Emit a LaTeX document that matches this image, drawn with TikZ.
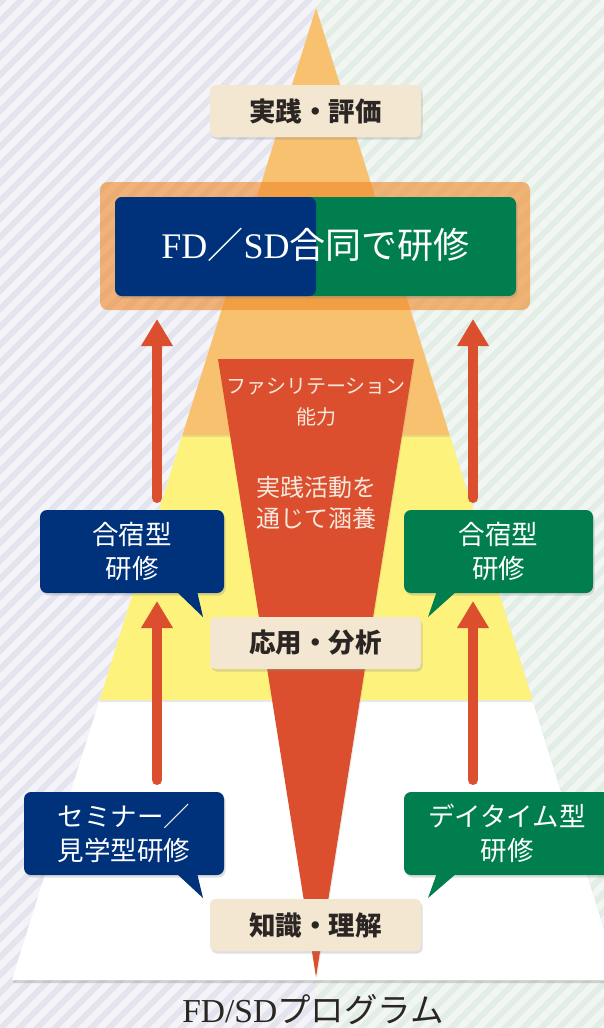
\documentclass[tikz,border=0pt]{standalone}
\usepackage{fontspec}
\setmainfont{Liberation Serif}
\newfontfamily\jp{Noto Sans CJK JP}
\usetikzlibrary{arrows.meta,shadows}
\definecolor{lav}{HTML}{E4E4EF}
\definecolor{lavs}{HTML}{F3F3F8}
\definecolor{mint}{HTML}{E2EDE6}
\definecolor{mints}{HTML}{F1F6F2}
\definecolor{ptop}{HTML}{F7C16F}
\definecolor{pmid}{HTML}{FDF27C}
\definecolor{red1}{HTML}{DB4F2E}
\definecolor{navy}{HTML}{00317B}
\definecolor{grn}{HTML}{007E4E}
\definecolor{cream}{HTML}{F3E7D2}
\definecolor{frame}{HTML}{F08A2A}
\definecolor{ink}{HTML}{2B2623}
\definecolor{pale}{HTML}{F7E8DE}
\tikzset{
  shd/.style={drop shadow={opacity=0.25,shadow xshift=1.5pt,shadow yshift=-2.5pt}},
  labelbox/.style={fill=cream, rounded corners=5pt, minimum width=211pt, minimum height=52pt, inner sep=0pt, shd, text=ink, font=\jp\bfseries\fontsize{26.5}{28}\selectfont},
  bubble/.style={rounded corners=7pt, inner sep=0pt, text=white, align=center, shd, font=\jp\fontsize{26.5}{34}\selectfont},
  redtext/.style={text=pale, align=center, inner sep=0pt},
  arr/.style={draw=red1, line width=10pt, line cap=round, -{Triangle[width=30pt,length=27pt]}},
  stripe/.style={line width=6.5pt},
}
\begin{document}
\begin{tikzpicture}[x=1pt,y=-1pt]
\useasboundingbox (0,0) rectangle (604,1028);
% background
\begin{scope}
  \clip (0,0) rectangle (316,1028);
  \fill[lav] (0,0) rectangle (316,1028);
  \foreach \i in {-1100,-1082,...,620} \draw[stripe,lavs] (\i,1040) -- ++(1120,-1120);
\end{scope}
\begin{scope}
  \clip (316,0) rectangle (604,1028);
  \fill[mint] (316,0) rectangle (604,1028);
  \foreach \i in {-1100,-1082,...,620} \draw[stripe,mints] (\i,1040) -- ++(1120,-1120);
\end{scope}
% pyramid
\fill[white, drop shadow={opacity=0.3,shadow xshift=1pt,shadow yshift=-3pt}] (316,8) -- (620,980) -- (12,980) -- cycle;
\fill[pmid, drop shadow={opacity=0.18,shadow xshift=0pt,shadow yshift=-2pt}] (182.4,435) -- (449.6,435) -- (532.5,700) -- (99.5,700) -- cycle;
\fill[ptop, drop shadow={opacity=0.18,shadow xshift=0pt,shadow yshift=-2pt}] (316,8) -- (449.6,435) -- (182.4,435) -- cycle;
% inverted triangle
\fill[red1, drop shadow={opacity=0.15,shadow xshift=1pt,shadow yshift=-1pt}] (218,359) -- (414,359) -- (316,977) -- cycle;
\node[redtext, font=\jp\fontsize{20}{31}\selectfont] (fac) at (316,402) {ファシリテーション\\能力};
\node[redtext, font=\jp\fontsize{24}{31}\selectfont] (jis) at (316,503) {実践活動を\\通じて涵養};
% top label
\node[labelbox] (top) at (315.5,111) {実践・評価};
% FD/SD frame
\node[fill=frame, fill opacity=0.62, rounded corners=8pt, minimum width=430pt, minimum height=128pt, inner sep=0pt] (frm) at (315,246) {};
\node[fill=grn, rounded corners=7pt, minimum width=401pt, minimum height=99pt, inner sep=0pt, shd,
  path picture={\fill[navy] (path picture bounding box.north west) rectangle ([xshift=0.5pt]path picture bounding box.south);}] (fd) at (315.5,246.5) {};
\node[text=white, inner sep=0pt, font=\fontsize{36}{40}\selectfont] (fdtxt) at (315.5,245) {FD{\jp ／}SD{\jp 合同で研修}};
% bubbles upper
\node[bubble, fill=navy, minimum width=184pt, minimum height=83pt] (b1) at (132,551.5) {合宿型\\研修};
\fill[navy] (176,591) -- (203,617) -- (197,591) -- cycle;
\node[bubble, fill=grn, minimum width=189pt, minimum height=83pt] (b2) at (498.5,551.5) {合宿型\\研修};
\fill[grn] (437,591) -- (428,617) -- (457,591) -- cycle;
% mid label
\node[labelbox] (mid) at (315.5,643) {応用・分析};
% bubbles lower
\node[bubble, fill=navy, minimum width=200pt, minimum height=83pt] (b3) at (124,833.5) {セミナー／\\見学型研修};
\fill[navy] (176,873) -- (203,898) -- (197,873) -- cycle;
\node[bubble, fill=grn, minimum width=206pt, minimum height=83pt] (b4) at (507,833.5) {デイタイム型\\研修};
\fill[grn] (437,873) -- (428,898) -- (457,873) -- cycle;
% bottom label
\node[labelbox] (bot) at (315.5,925) {知識・理解};
% arrows
\coordinate (a1s) at (157,498); \coordinate (a1e) at (157,319);
\coordinate (a2s) at (473,498); \coordinate (a2e) at (473,319);
\coordinate (a3s) at (157,780); \coordinate (a3e) at (157,601);
\coordinate (a4s) at (473,780); \coordinate (a4e) at (473,601);
\draw[arr] (a1s) -- (a1e);
\draw[arr] (a2s) -- (a2e);
\draw[arr] (a3s) -- (a3e);
\draw[arr] (a4s) -- (a4e);
% caption
\node[anchor=base, text=ink, inner sep=0pt, font=\fontsize{33.5}{36}\selectfont] (cap) at (313,1022) {FD/SD{\jp プログラム}};
\end{tikzpicture}
\end{document}
